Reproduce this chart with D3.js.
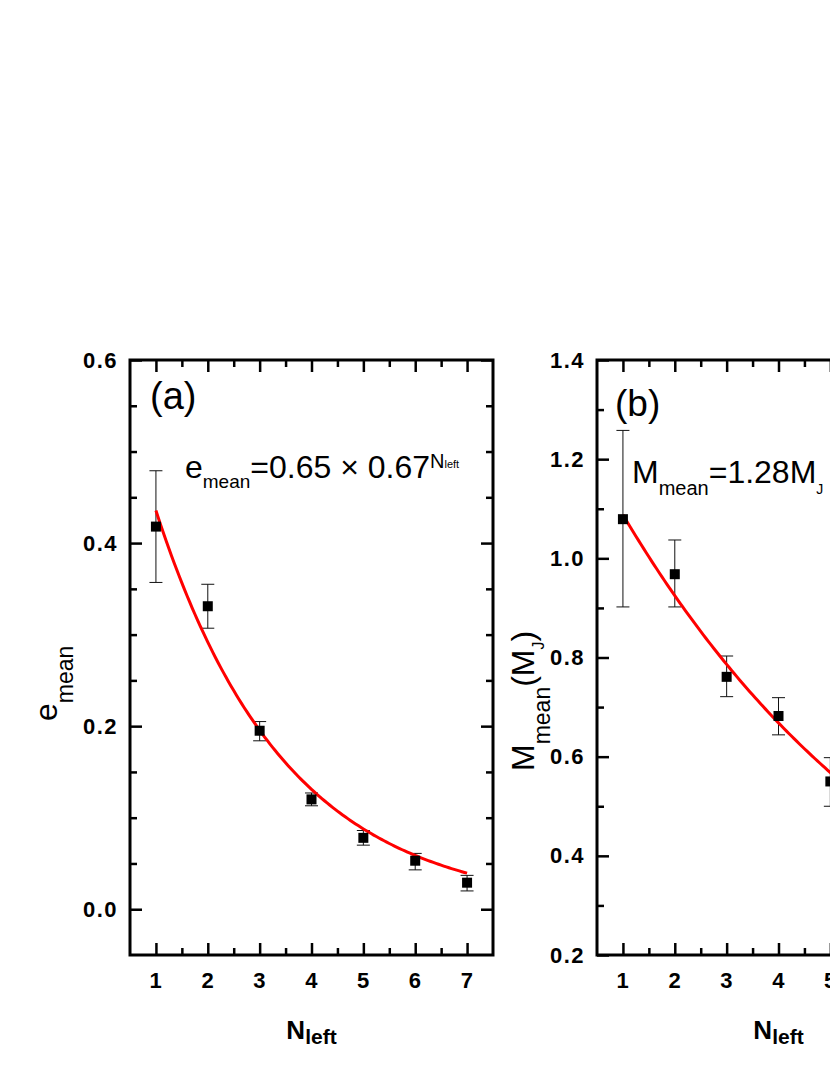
<!DOCTYPE html>
<html>
<head>
<meta charset="utf-8">
<script src="https://cdn.jsdelivr.net/npm/d3@7"></script>
<style>
  body { margin: 0; background: #fff; }
  svg { display: block; font-family: "Liberation Sans", Arial, sans-serif; }
</style>
</head>
<body>
<div id="chart"></div>
<script>
// data
const nLeft = [1, 2, 3, 4, 5, 6, 7];
const eMean = [0.418, 0.331, 0.195, 0.120, 0.078, 0.053, 0.029];
const eHigh = [0.479, 0.355, 0.205, 0.127, 0.086, 0.061, 0.037];
const eLow = [0.357, 0.307, 0.184, 0.113, 0.070, 0.043, 0.020];

const mN = [1, 2, 3, 4, 5];
const mMean = [1.079, 0.968, 0.761, 0.682, 0.550];
const mHigh = [1.258, 1.037, 0.803, 0.719, 0.598];
const mLow = [0.902, 0.902, 0.721, 0.644, 0.500];

// fit curves: value = a * b^N
const eFit = { a: 0.65, b: 0.67 };
const mFit = { a: 1.28, b: 0.85 };

const xMajor = [1, 2, 3, 4, 5, 6, 7];
const xMinor = [1.5, 2.5, 3.5, 4.5, 5.5, 6.5];
const eMajor = [0.0, 0.2, 0.4, 0.6];
const eMinor = [0.05, 0.1, 0.15, 0.25, 0.3, 0.35, 0.45, 0.5, 0.55];
const mMajor = [0.2, 0.4, 0.6, 0.8, 1.0, 1.2, 1.4];
const mMinor = [0.3, 0.5, 0.7, 0.9, 1.1, 1.3];

const W = 830, H = 1075;
const plotTop = 360, plotBottom = 955;

const svg = d3.select("#chart").append("svg")
  .attr("width", W).attr("height", H);

function panel(opts) {
  const { left, right, yDomain, yMajor, yMinor, xs, ys, lo, hi, fit } = opts;
  const x = d3.scaleLinear().domain([0.5, 7.5]).range([left, right]);
  const y = d3.scaleLinear().domain(yDomain).range([plotBottom, plotTop]);
  const fmt = d3.format(".1f");
  const g = svg.append("g");

  const tickStyle = (sel) => {
    sel.select(".domain").remove();
    sel.selectAll("line").attr("stroke", "#000").attr("stroke-width", 2.5);
    sel.selectAll("text")
      .attr("font-size", 22).attr("font-weight", "bold")
      .attr("fill", "#000").attr("font-family", "Liberation Sans, Arial, sans-serif")
      .attr("letter-spacing", 1.5);
  };

  // bottom
  g.append("g").attr("transform", `translate(0,${plotBottom})`)
    .call(d3.axisBottom(x).tickValues(xMajor).tickSize(-12).tickPadding(17).tickFormat(d3.format("d")))
    .call(tickStyle);
  g.append("g").attr("transform", `translate(0,${plotBottom})`)
    .call(d3.axisBottom(x).tickValues(xMinor).tickSize(-7).tickFormat(""))
    .call(tickStyle);
  // top
  g.append("g").attr("transform", `translate(0,${plotTop})`)
    .call(d3.axisTop(x).tickValues(xMajor).tickSize(-12).tickFormat(""))
    .call(tickStyle);
  g.append("g").attr("transform", `translate(0,${plotTop})`)
    .call(d3.axisTop(x).tickValues(xMinor).tickSize(-7).tickFormat(""))
    .call(tickStyle);
  // left
  g.append("g").attr("transform", `translate(${left},0)`)
    .call(d3.axisLeft(y).tickValues(yMajor).tickSize(-12).tickPadding(12).tickFormat(fmt))
    .call(tickStyle);
  g.append("g").attr("transform", `translate(${left},0)`)
    .call(d3.axisLeft(y).tickValues(yMinor).tickSize(-7).tickFormat(""))
    .call(tickStyle);
  // right
  g.append("g").attr("transform", `translate(${right},0)`)
    .call(d3.axisRight(y).tickValues(yMajor).tickSize(-12).tickFormat(""))
    .call(tickStyle);
  g.append("g").attr("transform", `translate(${right},0)`)
    .call(d3.axisRight(y).tickValues(yMinor).tickSize(-7).tickFormat(""))
    .call(tickStyle);

  // frame
  g.append("rect")
    .attr("x", left).attr("y", plotTop)
    .attr("width", right - left).attr("height", plotBottom - plotTop)
    .attr("fill", "none").attr("stroke", "#000").attr("stroke-width", 3);

  // error bars
  const eb = g.append("g").attr("stroke", "#111").attr("stroke-width", 1);
  xs.forEach((n, i) => {
    eb.append("line").attr("x1", x(n)).attr("x2", x(n)).attr("y1", y(lo[i])).attr("y2", y(hi[i]));
    eb.append("line").attr("x1", x(n) - 6.5).attr("x2", x(n) + 6.5).attr("y1", y(lo[i])).attr("y2", y(lo[i]));
    eb.append("line").attr("x1", x(n) - 6.5).attr("x2", x(n) + 6.5).attr("y1", y(hi[i])).attr("y2", y(hi[i]));
  });

  // fit curve
  const curveN = d3.range(1, 7.001, 0.05);
  g.append("path")
    .datum(curveN)
    .attr("fill", "none").attr("stroke", "#ff0000").attr("stroke-width", 3)
    .attr("d", d3.line().x((n) => x(n)).y((n) => y(fit.a * Math.pow(fit.b, n))));

  // points
  g.selectAll(null).data(xs).enter().append("rect")
    .attr("x", (n) => x(n) - 5).attr("y", (n, i) => y(ys[i]) - 5)
    .attr("width", 10).attr("height", 10).attr("fill", "#000");

  return { g, x, y };
}

const pa = panel({
  left: 130, right: 493, yDomain: [-0.05, 0.6], yMajor: eMajor, yMinor: eMinor,
  xs: nLeft, ys: eMean, lo: eLow, hi: eHigh, fit: eFit
});
const pb = panel({
  left: 597, right: 960, yDomain: [0.2, 1.4], yMajor: mMajor, yMinor: mMinor,
  xs: mN, ys: mMean, lo: mLow, hi: mHigh, fit: mFit
});

// panel letters
svg.append("text").attr("x", 150).attr("y", 409).attr("font-size", 38).text("(a)");
svg.append("text").attr("x", 615).attr("y", 416).attr("font-size", 37).text("(b)");

// formula (a)
const fa = svg.append("text").attr("x", 185).attr("y", 478).attr("font-size", 32);
fa.append("tspan").text("e");
fa.append("tspan").attr("font-size", 19).attr("dy", 10).text("mean");
fa.append("tspan").attr("dy", -10).text("=0.65 \u00d7 0.67");
fa.append("tspan").attr("font-size", 20).attr("dy", -10).text("N");
fa.append("tspan").attr("font-size", 11).attr("dy", 0).text("left");

// formula (b)
const fb = svg.append("text").attr("x", 632).attr("y", 483).attr("font-size", 32);
fb.append("tspan").text("M");
fb.append("tspan").attr("font-size", 20).attr("dy", 12).text("mean");
fb.append("tspan").attr("dy", -12).text("=1.28M");
fb.append("tspan").attr("font-size", 14).attr("dy", 11).text("J");
fb.append("tspan").attr("dy", -11).text(" \u00d7 0.85");
fb.append("tspan").attr("font-size", 20).attr("dy", -10).text("N");
fb.append("tspan").attr("font-size", 11).text("left");

// x axis titles
[pa, pb].forEach((p) => {
  const cx = (p.x.range()[0] + p.x.range()[1]) / 2;
  const t = svg.append("text").attr("x", cx).attr("y", 1039)
    .attr("text-anchor", "middle").attr("font-weight", "bold").attr("font-size", 26);
  t.append("tspan").text("N");
  t.append("tspan").attr("font-size", 21).attr("dy", 5).text("left");
});

// y axis titles
const ya = svg.append("text").attr("transform", "translate(57,721) rotate(-90)").attr("font-size", 32);
ya.append("tspan").text("e");
ya.append("tspan").attr("font-size", 23).attr("dy", 16).text("mean");

const yb = svg.append("text").attr("transform", "translate(534,771) rotate(-90)").attr("font-size", 32);
yb.append("tspan").text("M");
yb.append("tspan").attr("font-size", 23).attr("dy", 16).text("mean");
yb.append("tspan").attr("dy", -16).text("(M");
yb.append("tspan").attr("font-size", 16).attr("dy", 10).text("J");
yb.append("tspan").attr("dy", -10).text(")");
</script>
</body>
</html>
